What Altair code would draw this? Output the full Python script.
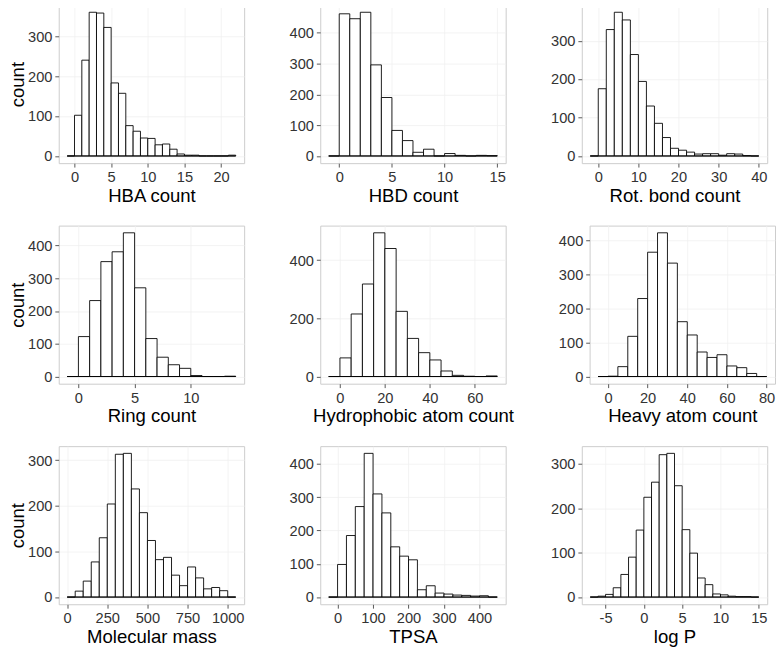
import altair as alt
import pandas as pd

# ---- data (bin start, bin width, counts) ----
hba_start, hba_width = -1, 1
hba_counts = [0, 102, 240, 360, 358, 322, 183, 157, 76, 62, 45, 44, 28, 30, 17, 5, 2, 2, 0, 0, 0, 0, 2]
hba_xticks = [0, 5, 10, 15, 20]
hba_yticks = [0, 100, 200, 300]

hbd_start, hbd_width = -1, 1
hbd_counts = [0, 462, 446, 467, 296, 190, 83, 50, 12, 22, 0, 8, 2, 0, 2, 1]
hbd_xticks = [0, 5, 10, 15]
hbd_yticks = [0, 100, 200, 300, 400]

rot_start, rot_width = -2, 2
rot_counts = [0, 175, 329, 374, 354, 264, 194, 130, 85, 48, 20, 15, 10, 5, 6, 6, 2, 6, 5, 1, 0]
rot_xticks = [0, 10, 20, 30, 40]
rot_yticks = [0, 100, 200, 300]

ring_start, ring_width = -1, 1
ring_counts = [0, 122, 232, 351, 381, 439, 271, 116, 59, 36, 25, 3, 0, 0, 1]
ring_xticks = [0, 5, 10]
ring_yticks = [0, 100, 200, 300, 400]

hyd_start, hyd_width = -5, 5
hyd_counts = [0, 64, 215, 318, 494, 440, 224, 131, 82, 57, 19, 4, 1, 0, 2]
hyd_xticks = [0, 20, 40, 60]
hyd_yticks = [0, 100, 200, 300, 400, 500]

heavy_start, heavy_width = -5, 5
heavy_counts = [0, 1, 29, 118, 229, 365, 422, 333, 161, 122, 72, 56, 64, 31, 26, 9, 0]
heavy_xticks = [0, 20, 40, 60, 80]
heavy_yticks = [0, 100, 200, 300, 400]

mass_start, mass_width = 0, 50
mass_counts = [0, 13, 35, 77, 130, 204, 313, 315, 237, 185, 124, 82, 87, 48, 25, 66, 42, 18, 21, 14, 0]
mass_xticks = [0, 250, 500, 750, 1000]
mass_yticks = [0, 100, 200, 300]

tpsa_start, tpsa_width = -25, 25
tpsa_counts = [0, 98, 185, 272, 432, 310, 253, 151, 123, 112, 22, 34, 12, 9, 6, 5, 3, 4, 0]
tpsa_xticks = [0, 100, 200, 300, 400]
tpsa_yticks = [0, 100, 200, 300, 400]

logp_start, logp_width = -7, 1
logp_counts = [0, 2, 6, 21, 51, 90, 151, 225, 259, 321, 324, 251, 152, 99, 43, 28, 7, 5, 2, 1, 1, 0]
logp_xticks = [-5, 0, 5, 10, 15]
logp_yticks = [0, 100, 200, 300]

PW, PH = 190, 162


def panel(start, width, counts, xticks, yticks, xtitle, ytitle):
    n = len(counts)
    df = pd.DataFrame({
        "x0": [start + i * width for i in range(n)],
        "x1": [start + (i + 1) * width for i in range(n)],
        "count": counts,
    })
    lo, hi = start, start + n * width
    r = hi - lo
    xdom = [lo - 0.05 * r, hi + 0.05 * r]
    ymax = max(counts)
    ydom = [-0.05 * ymax, 1.05 * ymax]

    xaxis = alt.Axis(values=xticks, title=xtitle, labelExpr="'' + datum.value")
    if ytitle:
        yaxis = alt.Axis(values=yticks, title=ytitle, labelExpr="'' + datum.value")
    else:
        yaxis = alt.Axis(values=yticks, title=None, labelExpr="'' + datum.value")

    bars = alt.Chart(df).mark_rect(fill="white", stroke="black", strokeWidth=0.9).encode(
        x=alt.X("x0:Q", scale=alt.Scale(domain=xdom, nice=False, zero=False), axis=xaxis),
        x2="x1:Q",
        y=alt.Y("count:Q", scale=alt.Scale(domain=ydom, nice=False, zero=False), axis=yaxis),
        y2=alt.datum(0),
    )
    base = alt.Chart(df).transform_aggregate(
        lo="min(x0)", hi="max(x1)"
    ).mark_rule(color="black", strokeWidth=0.9).encode(
        x="lo:Q", x2="hi:Q", y=alt.datum(0)
    )
    return alt.layer(bars, base).properties(width=PW, height=PH)


row1 = alt.hconcat(
    panel(hba_start, hba_width, hba_counts, hba_xticks, hba_yticks, "HBA count", "count"),
    panel(hbd_start, hbd_width, hbd_counts, hbd_xticks, hbd_yticks, "HBD count", None),
    panel(rot_start, rot_width, rot_counts, rot_xticks, rot_yticks, "Rot. bond count", None),
    spacing=44,
)
row2 = alt.hconcat(
    panel(ring_start, ring_width, ring_counts, ring_xticks, ring_yticks, "Ring count", "count"),
    panel(hyd_start, hyd_width, hyd_counts, hyd_xticks, hyd_yticks, "Hydrophobic atom count", None),
    panel(heavy_start, heavy_width, heavy_counts, heavy_xticks, heavy_yticks, "Heavy atom count", None),
    spacing=44,
)
row3 = alt.hconcat(
    panel(mass_start, mass_width, mass_counts, mass_xticks, mass_yticks, "Molecular mass", "count"),
    panel(tpsa_start, tpsa_width, tpsa_counts, tpsa_xticks, tpsa_yticks, "TPSA", None),
    panel(logp_start, logp_width, logp_counts, logp_xticks, logp_yticks, "log P", None),
    spacing=44,
)

chart = alt.vconcat(row1, row2, row3, spacing=19).properties(
    padding={"left": 0, "top": -12, "right": 0, "bottom": 0}
).configure(
    font="Liberation Sans",
).configure_view(
    stroke="#cccccc", strokeWidth=1
).configure_axis(
    domain=False,
    grid=True,
    gridColor="#f0f0f0",
    gridWidth=0.8,
    ticks=True,
    tickColor="#555555",
    tickSize=4,
    labelFontSize=15,
    labelColor="#333333",
    labelPadding=3,
    titleFontSize=19,
    titleFontWeight="normal",
    titleColor="black",
).configure_axisX(
    titlePadding=2,
).configure_axisY(
    titlePadding=0,
)

chart.save("out.html", embed_options={"renderer": "svg", "actions": False})
